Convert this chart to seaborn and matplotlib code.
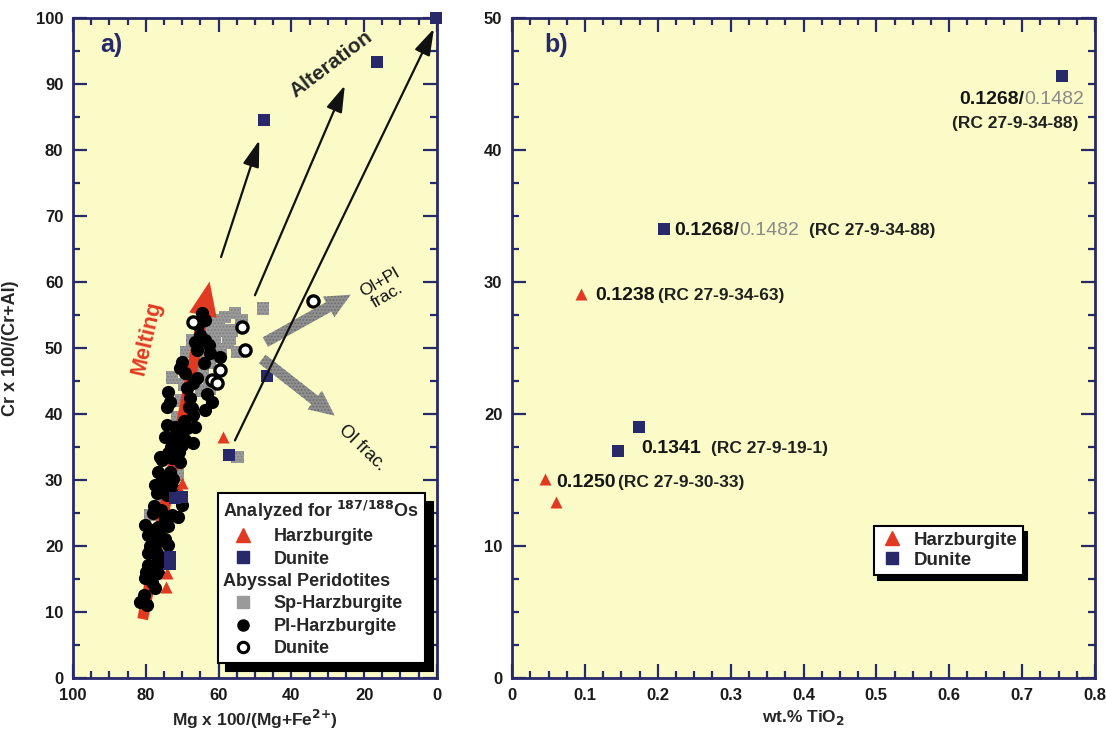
import numpy as np
import pandas as pd
import matplotlib
matplotlib.use("Agg")
import matplotlib.pyplot as plt
from matplotlib.lines import Line2D
from matplotlib.patches import FancyArrowPatch
from matplotlib.ticker import MultipleLocator, FuncFormatter
import seaborn as sns

sns.set_theme(style="ticks")
plt.rcParams['font.family'] = ['Liberation Sans', 'DejaVu Sans']
plt.rcParams['font.weight'] = 'bold'
plt.rcParams['hatch.linewidth'] = 0.8

NAVY = '#28296b'
RED = '#e23a22'
GREY = '#9a9a9a'
BG = '#fbfbc8'

# ---- panel a data: Mg# vs Cr# ----
# analysed for Os
a_harz_mg = [58.8, 70.1, 70.6, 74.2, 74.4]
a_harz_cr = [36.5, 29.5, 28.4, 15.9, 13.8]
a_dun_mg = [0.3, 16.5, 47.5, 46.7, 57.1, 72.0, 70.1, 73.4, 73.4]
a_dun_cr = [100.0, 93.3, 84.5, 45.8, 33.8, 27.3, 27.4, 18.3, 17.2]

# abyssal peridotites
sp_mg = [61.0, 58.2, 55.5, 53.6, 59.0, 56.3, 61.8, 64.6, 67.3, 61.0, 68.7, 64.3, 57.4,
         54.9, 65.1, 64.3, 72.8, 62.4, 64.6, 70.1, 68.7, 71.4, 67.9, 70.1, 47.8, 54.7,
         78.8, 71.2, 75.3, 60.0, 57.0, 63.0, 66.0, 69.5, 62.5, 59.5]
sp_cr = [54.2, 54.7, 55.3, 54.2, 52.7, 52.7, 52.4, 53.2, 51.2, 50.8, 49.4, 49.4, 50.8,
         49.4, 47.4, 45.9, 45.5, 43.9, 43.6, 42.1, 40.6, 39.5, 38.3, 37.3, 56.0, 33.5,
         24.7, 30.8, 26.7, 53.5, 51.5, 51.0, 46.5, 44.5, 47.8, 49.8]

pl_mg = [64.6, 63.7, 65.7, 66.5, 63.7, 65.9, 62.4, 59.6, 70.1, 70.6, 69.2, 67.0, 68.7,
         73.9, 73.4, 67.9, 61.8, 63.7, 67.3, 74.2, 67.0, 74.2, 72.0, 68.7, 66.5, 74.7,
         72.5, 69.2, 67.0, 70.1, 76.1, 73.9, 71.4, 75.5, 72.8, 76.6, 73.4, 70.6, 77.5,
         73.9, 76.9, 74.2, 70.1, 72.8, 71.2, 74.7, 80.2, 76.6, 79.4, 76.1, 76.9, 73.9,
         79.4, 76.6, 79.4, 78.0, 76.6, 80.2, 78.3, 77.5, 81.6, 79.7, 80.5, 65.0, 62.5,
         64.0, 69.5, 71.5, 72.5, 75.0, 77.8, 78.5, 75.8, 74.0, 77.0, 78.9, 80.0, 75.5,
         73.0, 71.0, 68.0, 66.0, 72.0, 74.8, 76.3, 78.0, 61.0, 63.2]
pl_cr = [55.3, 54.2, 53.5, 50.9, 51.2, 49.7, 49.2, 48.7, 47.9, 47.0, 46.2, 44.7, 43.9,
         43.3, 41.8, 42.4, 41.8, 40.6, 40.9, 41.1, 39.8, 38.3, 38.0, 37.9, 38.0, 36.5,
         36.5, 36.1, 35.6, 35.3, 33.5, 34.1, 33.5, 33.0, 33.3, 31.2, 31.2, 32.7, 29.2,
         29.5, 28.0, 27.7, 26.2, 24.7, 24.4, 24.2, 23.2, 22.9, 21.7, 21.7, 20.6, 20.2,
         18.9, 18.2, 17.1, 16.4, 15.9, 15.2, 14.5, 13.6, 11.5, 11.1, 12.6, 52.0, 50.5,
         47.8, 39.0, 36.8, 30.2, 29.0, 26.0, 22.5, 25.5, 23.0, 19.0, 20.0, 16.0, 30.5,
         35.0, 34.2, 41.0, 45.5, 28.5, 21.0, 17.5, 25.0, 45.0, 43.0]

ab_dun_mg = [67.0, 53.6, 52.7, 59.6, 61.8, 60.4, 34.0]
ab_dun_cr = [53.9, 53.2, 49.7, 46.7, 45.2, 44.7, 57.2]

# ---- panel b data: TiO2 vs Cr# ----
b_harz_ti = [0.095, 0.045, 0.060]
b_harz_cr = [29.1, 15.1, 13.3]
b_dun_ti = [0.755, 0.209, 0.174, 0.146]
b_dun_cr = [45.6, 34.0, 19.0, 17.2]

fig = plt.figure(figsize=(11.06, 7.34), dpi=100)
fig.patch.set_facecolor('white')
ax1 = fig.add_axes([0.066, 0.0763, 0.329, 0.899])
ax2 = fig.add_axes([0.463, 0.0763, 0.527, 0.899])


def style_axis(ax):
    ax.set_facecolor(BG)
    for s in ax.spines.values():
        s.set_color(NAVY)
        s.set_linewidth(2)
        s.set_visible(True)
    ax.tick_params(which='both', direction='in', top=True, right=True,
                   color=NAVY, width=1.6, labelsize=12, labelcolor='#1a1a1a', pad=7)
    ax.tick_params(which='major', length=10)
    ax.tick_params(which='minor', length=5)
    for lab in ax.get_xticklabels() + ax.get_yticklabels():
        lab.set_fontweight('bold')


# ================= panel a =================
sns.scatterplot(x=sp_mg, y=sp_cr, ax=ax1, marker='s', s=85, color=GREY,
                edgecolor='#7d7d7d', linewidth=0, hatch='.....', zorder=3)
sns.scatterplot(x=pl_mg, y=pl_cr, ax=ax1, marker='o', s=90, color='black',
                edgecolor='black', linewidth=0, zorder=4)
sns.scatterplot(x=ab_dun_mg, y=ab_dun_cr, ax=ax1, marker='o', s=65, color='white',
                edgecolor='black', linewidth=2.4, zorder=5)
sns.scatterplot(x=a_harz_mg, y=a_harz_cr, ax=ax1, marker='^', s=75, color=RED,
                linewidth=0, zorder=6)
sns.scatterplot(x=a_dun_mg, y=a_dun_cr, ax=ax1, marker='s', s=75, color=NAVY,
                linewidth=0, zorder=6, clip_on=False)

# melting arrow
ax1.add_patch(FancyArrowPatch((81, 8.5), (62.3, 60.5),
                              arrowstyle='simple,head_length=1.9,head_width=1.55,tail_width=0.6',
                              mutation_scale=13, color=RED, lw=0, zorder=3.5))
ax1.text(79.6, 51.5, 'Melting', color=RED, fontsize=15.5, fontweight='bold',
         rotation=77, ha='center', va='center')

# alteration arrows
for start, end in [((59.3, 63.8), (48.8, 81.5)),
                   ((50.0, 58.0), (25.3, 89.8)),
                   ((55.5, 36.0), (0.8, 98.4))]:
    ax1.annotate('', xy=end, xytext=start,
                 arrowprops=dict(arrowstyle='-|>,head_length=0.9,head_width=0.28',
                                 color='#111111', lw=1.6, mutation_scale=18,
                                 shrinkA=0, shrinkB=0), zorder=7)
ax1.text(29.1, 93.0, 'Alteration', fontsize=15, fontweight='bold', rotation=37,
         ha='center', va='center')

# fractionation arrows
for start, end in [((47.8, 50.7), (23.0, 58.3)), ((48.6, 48.6), (27.5, 39.5))]:
    ax1.add_patch(FancyArrowPatch(start, end,
                                  arrowstyle='simple,head_length=1.4,head_width=1.3,tail_width=0.6',
                                  mutation_scale=13, facecolor='#8f8f8f',
                                  edgecolor='#6a6a6a', hatch='.....', lw=0, zorder=6))
ax1.text(14.8, 59.0, 'Ol+Pl\nfrac.', fontsize=12.5, fontweight='normal', rotation=30,
         ha='center', va='center', linespacing=1.0, color='#111111')
ax1.text(20.6, 34.8, 'Ol frac.', fontsize=13, fontweight='normal', rotation=-44,
         ha='center', va='center', color='#111111')

ax1.text(0.074, 0.959, 'a)', transform=ax1.transAxes, fontsize=18, color=NAVY,
         fontweight='bold', ha='left', va='center')

ax1.set_xlim(100, 0)
ax1.set_ylim(0, 100)
ax1.xaxis.set_major_locator(MultipleLocator(20))
ax1.xaxis.set_minor_locator(MultipleLocator(5))
ax1.yaxis.set_major_locator(MultipleLocator(10))
ax1.yaxis.set_minor_locator(MultipleLocator(5))
ax1.set_xlabel('Mg x 100/(Mg+Fe$^{\\mathbf{2{+}}}$)', fontsize=12.5, fontweight='bold', labelpad=4)
ax1.set_ylabel('Cr x 100/(Cr+Al)', fontsize=13, fontweight='bold', labelpad=12)
style_axis(ax1)

hdr1 = 'Analyzed for $^{\\mathbf{187/188}}$Os'
hdr2 = 'Abyssal Peridotites'
handles_a = [
    Line2D([], [], linestyle='none', marker=None),
    Line2D([], [], linestyle='none', marker='^', color=RED, markersize=10),
    Line2D([], [], linestyle='none', marker='s', color=NAVY, markersize=8),
    Line2D([], [], linestyle='none', marker=None),
    Line2D([], [], linestyle='none', marker='s', color=GREY, markersize=8),
    Line2D([], [], linestyle='none', marker='o', color='black', markersize=8),
    Line2D([], [], linestyle='none', marker='o', markerfacecolor='white',
           markeredgecolor='black', markeredgewidth=2.2, markersize=7.5),
]
labels_a = [hdr1, 'Harzburgite', 'Dunite', hdr2, 'Sp-Harzburgite', 'Pl-Harzburgite', 'Dunite']
leg1 = ax1.legend(handles_a, labels_a, loc='upper left', bbox_to_anchor=(0.398, 0.280),
                  borderaxespad=0, frameon=True, fancybox=False,
                  prop={'weight': 'bold', 'size': 13},
                  handletextpad=0.6, labelspacing=0.3, borderpad=0.3, handlelength=2.2,
                  shadow={'ox': 6, 'oy': -6, 'facecolor': 'black', 'edgecolor': 'black', 'alpha': 1})
leg1.get_frame().set_facecolor('white')
leg1.get_frame().set_edgecolor('black')
leg1.get_frame().set_linewidth(1.5)
leg1.get_frame().set_alpha(1)
leg1.set_zorder(10)


def flush_headers(leg, headers):
    try:
        for col in leg._legend_handle_box.get_children():
            for row in col.get_children():
                da, ta = row.get_children()
                if ta.get_text() in headers:
                    da.width = 0
                    row.sep = 0
    except Exception:
        pass


flush_headers(leg1, [hdr1, hdr2])

# ================= panel b =================
sns.scatterplot(x=b_harz_ti, y=b_harz_cr, ax=ax2, marker='^', s=75, color=RED,
                linewidth=0, zorder=5)
sns.scatterplot(x=b_dun_ti, y=b_dun_cr, ax=ax2, marker='s', s=75, color=NAVY,
                linewidth=0, zorder=5)

num_kw = dict(fontsize=14, fontweight='bold', color='#151515')
grey_kw = dict(fontsize=14, fontweight='normal', color='#8a8a8a')
rc_kw = dict(fontsize=12.5, fontweight='bold', color='#202020')


def label_pt(x, y, num, rc, dx, dy, gap, grey=None):
    t = ax2.annotate(num, xy=(x, y), xytext=(dx, dy), textcoords='offset points',
                     ha='left', va='center', **num_kw)
    if grey:
        t = ax2.annotate(grey, xy=(1, 0.5), xycoords=t, ha='left', va='center', **grey_kw)
    ax2.annotate(rc, xy=(1, 0.5), xycoords=t, xytext=(gap, 0), textcoords='offset points',
                 ha='left', va='center', **rc_kw)


label_pt(b_dun_ti[1], b_dun_cr[1], '0.1268/', '(RC 27-9-34-88)', 7, -1, 7, grey='0.1482')
label_pt(b_harz_ti[0], b_harz_cr[0], '0.1238', '(RC 27-9-34-63)', 10, -1, 2)
label_pt(b_dun_ti[2], b_dun_cr[2], '0.1341', '(RC 27-9-19-1)', 2, -15, 7)
label_pt(b_harz_ti[1], b_harz_cr[1], '0.1250', '(RC 27-9-30-33)', 8, -3, 2)

# label below the top-right point
tg = ax2.annotate('0.1482', xy=(b_dun_ti[0], b_dun_cr[0]), xytext=(16, -17),
                  textcoords='offset points', ha='right', va='center', **grey_kw)
ax2.annotate('0.1268/', xy=(0, 0.5), xycoords=tg, ha='right', va='center', **num_kw)
ax2.annotate('(RC 27-9-34-88)', xy=(b_dun_ti[0], b_dun_cr[0]), xytext=(12, -34),
             textcoords='offset points', ha='right', va='center', **rc_kw)

ax2.text(0.056, 0.959, 'b)', transform=ax2.transAxes, fontsize=18, color=NAVY,
         fontweight='bold', ha='left', va='center')

ax2.set_xlim(0, 0.8)
ax2.set_ylim(0, 50)
ax2.xaxis.set_major_locator(MultipleLocator(0.1))
ax2.xaxis.set_minor_locator(MultipleLocator(0.025))
ax2.yaxis.set_major_locator(MultipleLocator(10))
ax2.yaxis.set_minor_locator(MultipleLocator(2.5))
ax2.xaxis.set_major_formatter(FuncFormatter(lambda v, p: '0' if abs(v) < 1e-9 else f'{v:.1f}'))
ax2.set_xlabel('wt.% TiO$_\\mathbf{2}$', fontsize=12.5, fontweight='bold', labelpad=4)
ax2.set_ylabel('')
style_axis(ax2)

handles_b = [Line2D([], [], linestyle='none', marker='^', color=RED, markersize=10),
             Line2D([], [], linestyle='none', marker='s', color=NAVY, markersize=8)]
leg2 = ax2.legend(handles_b, ['Harzburgite', 'Dunite'], loc='upper left',
                  bbox_to_anchor=(0.621, 0.230), borderaxespad=0, frameon=True,
                  fancybox=False, prop={'weight': 'bold', 'size': 13.5},
                  handletextpad=0.5, labelspacing=0.15, borderpad=0.3, handlelength=1.3,
                  shadow={'ox': 3, 'oy': -4, 'facecolor': 'black', 'edgecolor': 'black', 'alpha': 1})
leg2.get_frame().set_facecolor('white')
leg2.get_frame().set_edgecolor('black')
leg2.get_frame().set_linewidth(1.5)
leg2.get_frame().set_alpha(1)

fig.savefig('out.png', dpi=100, facecolor='white')
